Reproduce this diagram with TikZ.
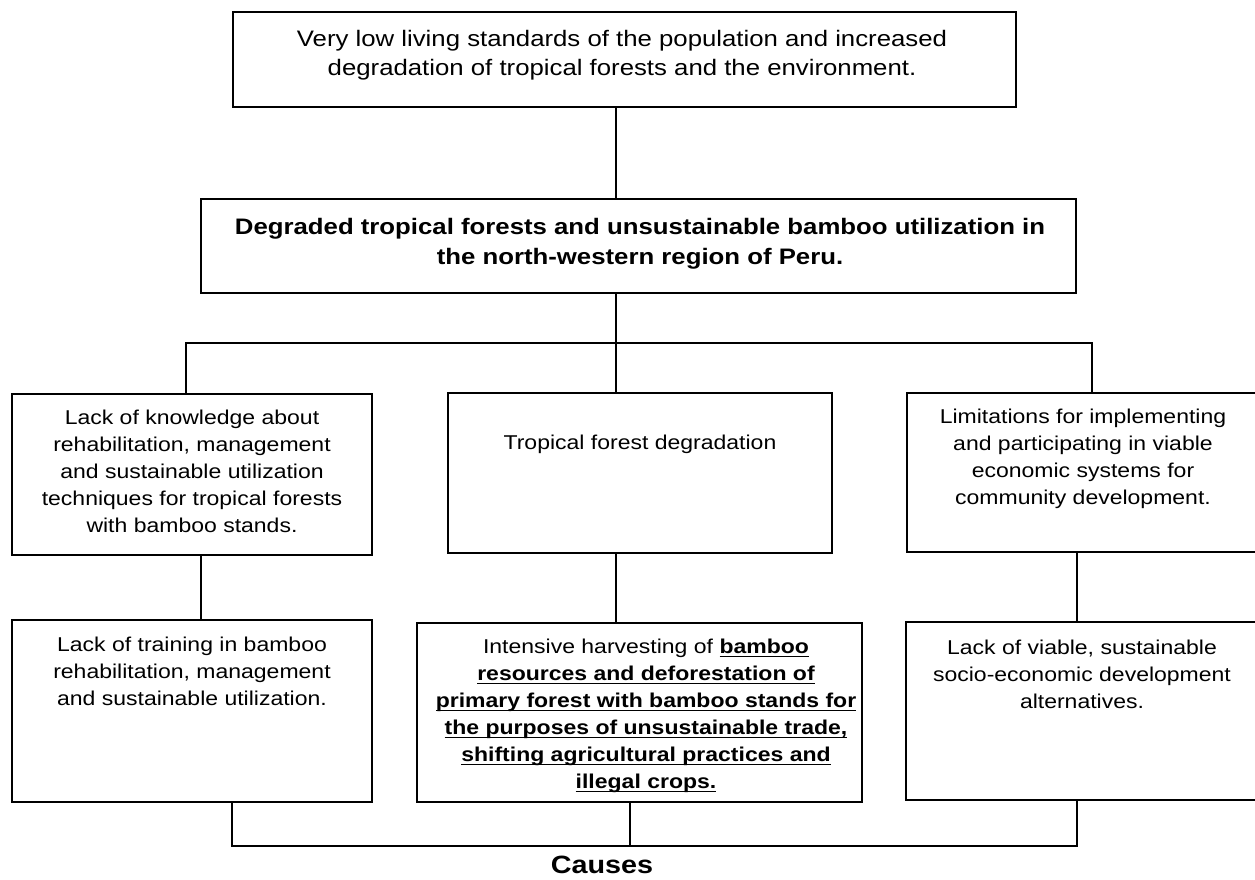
\documentclass[tikz,border=0pt]{standalone}
\usepackage{fontspec}
\setmainfont{Liberation Sans}[FakeStretch=1.15]
\newcommand\myul[1]{\setbox0=\hbox{#1}\rlap{\rule[-3.5pt]{\wd0}{1.6pt}}\box0}
\begin{document}
\begin{tikzpicture}[x=1pt,y=-1pt,
  box/.style={draw, line width=1.5pt, inner sep=0pt, rectangle},
  txt/.style={inner sep=0pt, align=center, font=\fontsize{20}{27}\selectfont},
  bigtxt/.style={inner sep=0pt, align=center, font=\fontsize{22.4}{29.5}\selectfont},
  conn/.style={line width=1.5pt}]
\useasboundingbox (0,0) rectangle (1255,879);
% boxes
\node[box, minimum width=783pt, minimum height=95pt] (top) at (624.5,59.5) {};
\node[box, minimum width=875pt, minimum height=94pt] (goal) at (638.5,246) {};
\node[box, minimum width=360pt, minimum height=161pt] (L1) at (192,474.5) {};
\node[box, minimum width=384pt, minimum height=160pt] (M1) at (640,473) {};
\node[box, minimum width=355pt, minimum height=159pt] (R1) at (1084.5,472.5) {};
\node[box, minimum width=360pt, minimum height=182pt] (L2) at (192,711) {};
\node[box, minimum width=445pt, minimum height=179pt] (M2) at (639.5,712.5) {};
\node[box, minimum width=356pt, minimum height=178pt] (R2) at (1084,711) {};
% texts
\node[bigtxt, anchor=north] (ttop) at (622,30) {Very low living standards of the population and increased\\degradation of tropical forests and the environment.};
\node[bigtxt, anchor=north, font=\fontsize{22.4}{30.5}\selectfont\bfseries] (tgoal) at (640,218) {Degraded tropical forests and unsustainable bamboo utilization in\\the north-western region of Peru.};
\node[txt, anchor=north] (tL1) at (192,410) {Lack of knowledge about\\rehabilitation, management\\and sustainable utilization\\techniques for tropical forests\\with bamboo stands.};
\node[txt, anchor=north] (tM1) at (640,435) {Tropical forest degradation};
\node[txt, anchor=north] (tR1) at (1083,409) {Limitations for implementing\\and participating in viable\\economic systems for\\community development.};
\node[txt, anchor=north] (tL2) at (192,637) {Lack of training in bamboo\\rehabilitation, management\\and sustainable utilization.};
\node[txt, anchor=north] (tM2) at (646,639) {Intensive harvesting of \myul{\bfseries bamboo}\\
\myul{\bfseries resources and deforestation of}\\
\myul{\bfseries primary forest with bamboo stands for}\\
\myul{\bfseries the purposes of unsustainable trade,}\\
\myul{\bfseries shifting agricultural practices and}\\
\myul{\bfseries illegal crops.}};
\node[txt, anchor=north] (tR2) at (1082,640) {Lack of viable, sustainable\\socio-economic development\\alternatives.};
\node[inner sep=0pt, anchor=base, font=\fontsize{25}{30}\selectfont\bfseries] (causes) at (602,873) {Causes};
% connectors
\coordinate (hl) at (616,343);
\coordinate (bl) at (630,846);
\draw[conn] (616,0 |- top.south) -- (616,0 |- goal.north);
\draw[conn] (616,0 |- goal.south) -- (hl);
\draw[conn] (186,0 |- L1.north) -- (186,0 |- hl) -- (1092,0 |- hl) -- (1092,0 |- R1.north);
\draw[conn] (hl) -- (616,0 |- M1.north);
\draw[conn] (201,0 |- L1.south) -- (201,0 |- L2.north);
\draw[conn] (616,0 |- M1.south) -- (616,0 |- M2.north);
\draw[conn] (1077,0 |- R1.south) -- (1077,0 |- R2.north);
\draw[conn] (232,0 |- L2.south) -- (232,0 |- bl) -- (1077,0 |- bl) -- (1077,0 |- R2.south);
\draw[conn] (630,0 |- M2.south) -- (bl);
\end{tikzpicture}
\end{document}
